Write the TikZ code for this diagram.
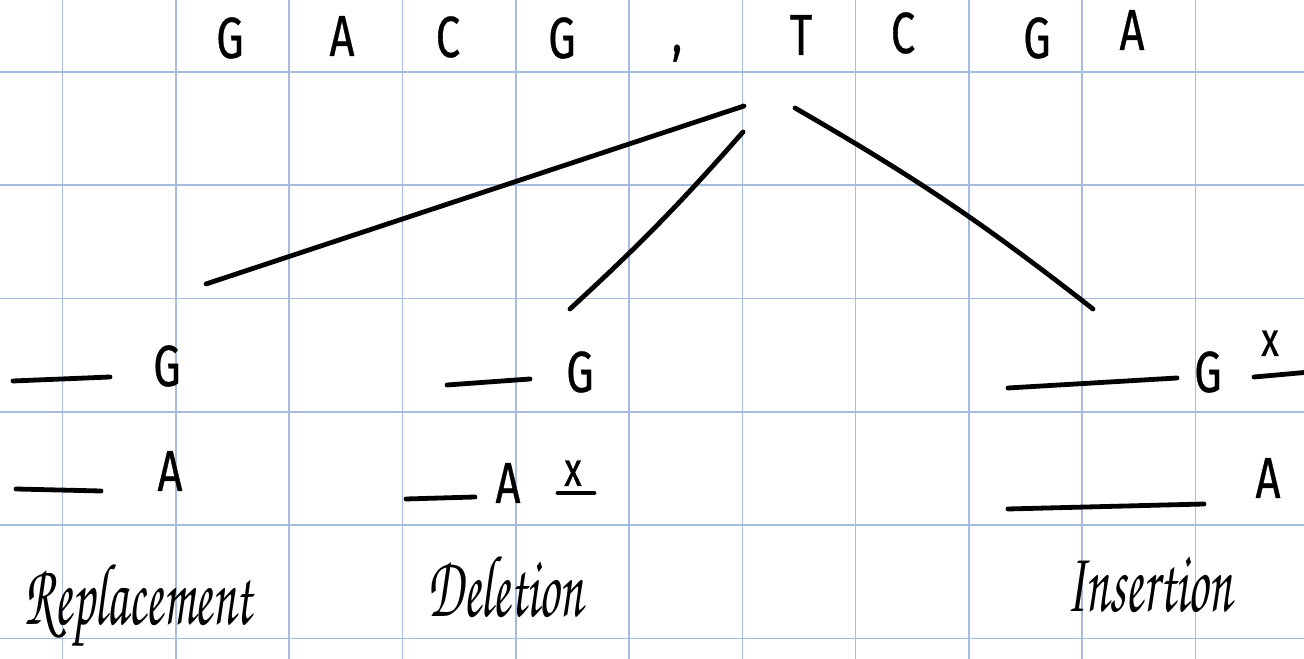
\documentclass[tikz,border=0pt]{standalone}
\usepackage{fontspec}
\setmainfont{Fira Sans}
\newfontfamily\letterfont[FakeStretch=0.75, FakeBold=0.6]{Fira Sans}
\newfontfamily\labelfont[FakeStretch=0.58]{texgyrechorus-mediumitalic.otf}
\usetikzlibrary{
  arrows.meta % 线端样式
}
\definecolor{gridblue}{RGB}{165,188,222}
\tikzset{
  gridline/.style={gridblue, line width=0.4pt},
  pen/.style={line width=1.2pt, line cap=round, line join=round},
  letter/.style={font=\letterfont\fontsize{14.5}{14.5}\selectfont, anchor=base, inner sep=0pt},
  cross/.style={font=\letterfont\fontsize{12}{12}\selectfont, anchor=base, inner sep=0pt},
  casename/.style={font=\labelfont\fontsize{22}{22}\selectfont, anchor=base, inner sep=0pt}
}

\begin{document}
\begin{tikzpicture}[x=0.25pt, y=-0.25pt]
  % 画面范围（像素坐标，y 向下）
  \useasboundingbox (0,0) rectangle (1304,659);
  \fill[white] (0,0) rectangle (1304,659);

  % 方格纸
  \foreach \gx in {0,...,10}
    \draw[gridline] (62.5+113.3*\gx, 0) -- (62.5+113.3*\gx, 659);
  \foreach \gy in {0,...,5}
    \draw[gridline] (0, 72+113.3*\gy) -- (1304, 72+113.3*\gy);

  % 两个序列
  \node[letter] (g1) at (230, 58) {G};
  \node[letter] (a1) at (342, 56) {A};
  \node[letter] (c1) at (448, 57) {C};
  \node[letter] (g2) at (562, 58) {G};
  \node[letter] (comma) at (677, 52) {,};
  \node[letter] (t2) at (801, 55) {T};
  \node[letter] (c2) at (903, 53) {C};
  \node[letter] (g3) at (1037, 58) {G};
  \node[letter] (a2) at (1132, 50) {A};

  % 分支端点
  \coordinate (rootL) at (744, 106);
  \coordinate (rootM) at (743, 132);
  \coordinate (rootR) at (795, 108);
  \coordinate (repTop) at (206, 284);
  \coordinate (delTop) at (570, 309);
  \coordinate (insTop) at (1093, 309);

  \draw[pen] (rootL) -- (repTop);
  \draw[pen] (rootM) to[bend left=3] (delTop);
  \draw[pen] (rootR) to[bend left=4] (insTop);

  % 替换
  \draw[pen] (13, 381) -- (110, 377);
  \node[letter] (repG) at (167, 386) {G};
  \draw[pen] (16, 489) -- (101, 491);
  \node[letter] (repA) at (170, 491) {A};
  \node[casename] (rep) at (138, 625) {Replacement};

  % 删除
  \draw[pen] (447, 385) -- (530, 379);
  \node[letter] (delG) at (580, 392) {G};
  \draw[pen] (406, 499) -- (475, 497);
  \node[letter] (delA) at (508, 503) {A};
  \node[cross] (delX) at (573, 486) {x};
  \draw[pen] (558, 493) -- (594, 493);
  \node[casename] (del) at (505, 617) {Deletion};

  % 插入
  \draw[pen] (1008, 388) -- (1177, 378);
  \node[letter] (insG) at (1208, 392) {G};
  \node[cross] (insX) at (1270, 356) {x};
  \draw[pen] (1254, 377) -- (1310, 372);
  \draw[pen] (1008, 509) -- (1204, 504);
  \node[letter] (insA) at (1268, 498) {A};
  \node[casename] (ins) at (1149, 612) {Insertion};
\end{tikzpicture}
\end{document}
